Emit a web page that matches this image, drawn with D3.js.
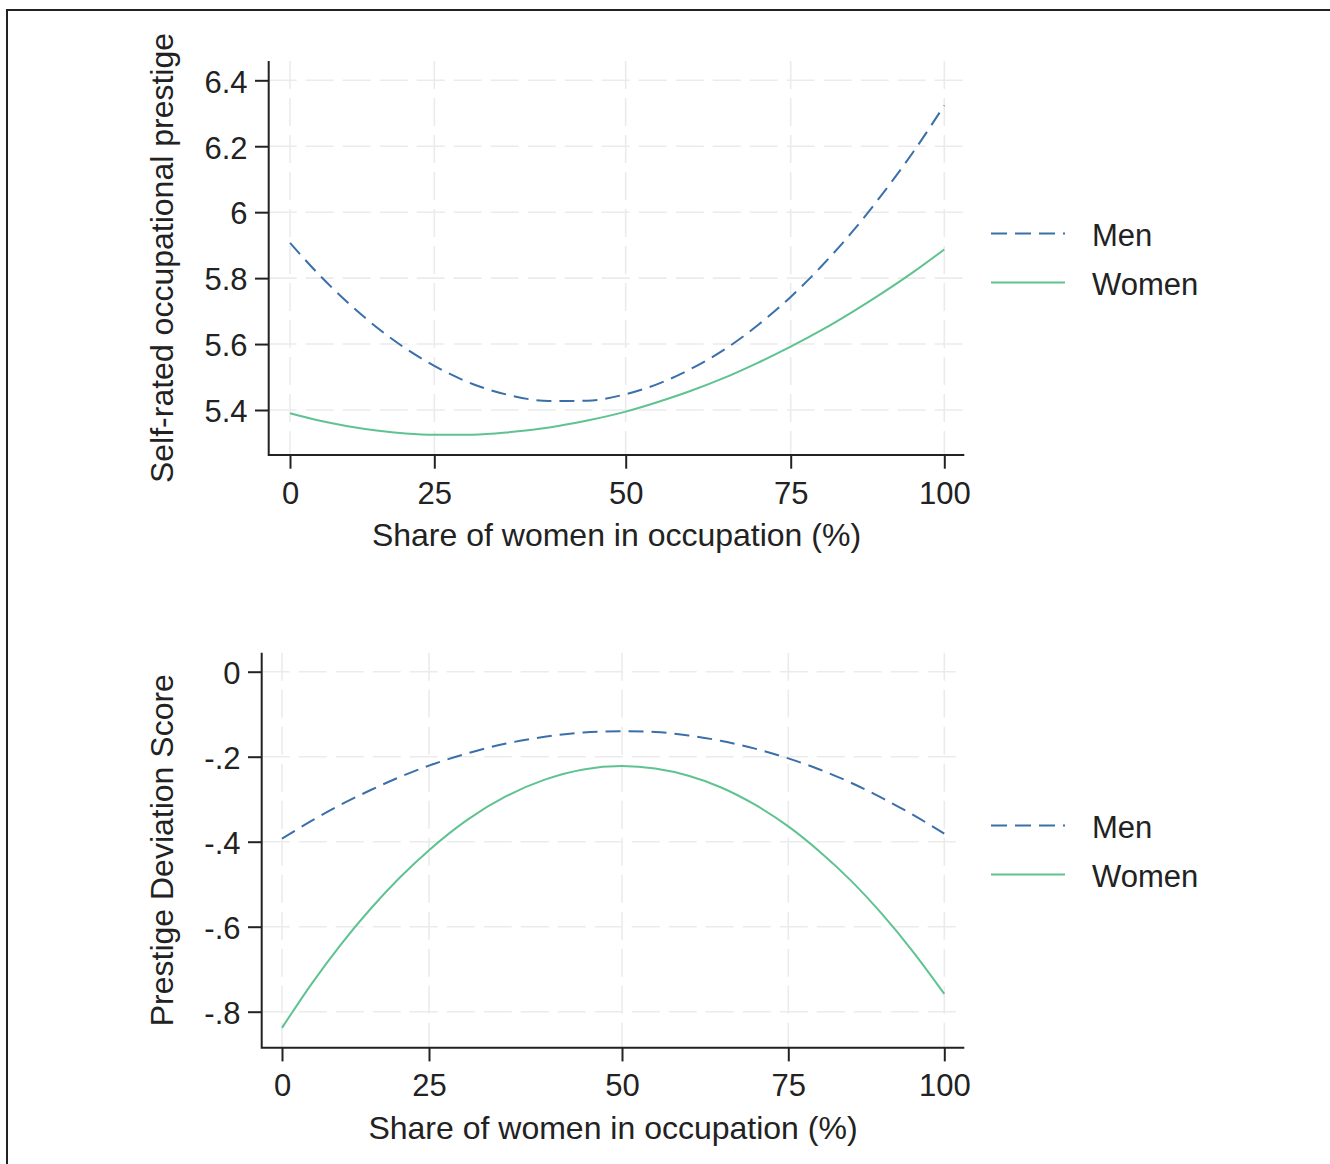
<!DOCTYPE html>
<html>
<head>
<meta charset="utf-8">
<script src="https://cdn.jsdelivr.net/npm/d3@7"></script>
<style>
  body { margin: 0; background: #fff; }
  svg text { font-family: "Liberation Sans", Arial, sans-serif; fill: #222; }
</style>
</head>
<body>
<div id="chart"></div>
<script>
// share of women in occupation (%)
var shareX = [0, 5, 10, 15, 20, 25, 30, 35, 40, 45, 50, 55, 60, 65, 70, 75, 80, 85, 90, 95, 100];
var xTicks = [0, 25, 50, 75, 100];

// top panel: self-rated occupational prestige
var prestigeMen   = [5.907, 5.811, 5.726, 5.651, 5.587, 5.534, 5.479, 5.444, 5.427, 5.428, 5.448,
                     5.480, 5.526, 5.584, 5.657, 5.743, 5.836, 5.940, 6.057, 6.184, 6.324];
var prestigeWomen = [5.390, 5.368, 5.351, 5.338, 5.329, 5.325, 5.325, 5.333, 5.347, 5.368, 5.395,
                     5.425, 5.459, 5.498, 5.543, 5.592, 5.642, 5.697, 5.756, 5.819, 5.887];
var prestigeTicks  = [5.4, 5.6, 5.8, 6, 6.2, 6.4];
var prestigeLabels = ["5.4", "5.6", "5.8", "6", "6.2", "6.4"];

// bottom panel: prestige deviation score
var deviationMen   = [-0.393, -0.351, -0.313, -0.279, -0.248, -0.221, -0.192, -0.169, -0.153, -0.143, -0.140,
                      -0.142, -0.150, -0.163, -0.181, -0.204, -0.230, -0.261, -0.297, -0.337, -0.381];
var deviationWomen = [-0.838, -0.735, -0.642, -0.559, -0.485, -0.420, -0.348, -0.293, -0.254, -0.230, -0.222,
                      -0.228, -0.245, -0.273, -0.313, -0.364, -0.423, -0.491, -0.570, -0.659, -0.758];
var deviationTicks  = [-0.8, -0.6, -0.4, -0.2, 0];
var deviationLabels = ["-.8", "-.6", "-.4", "-.2", "0"];

var seriesNames = ["Men", "Women"];
var colors = { Men: "#3b6fa9", Women: "#5fc391" };
var gridColor = "#ebebeb";
var ink = "#222";

var width = 1330, height = 1164;
var svg = d3.select("#chart").append("svg")
  .attr("width", width)
  .attr("height", height);

// outer frame (only top and left edges visible)
svg.append("path")
  .attr("d", "M7," + height + "V10H" + width)
  .attr("fill", "none")
  .attr("stroke", ink)
  .attr("stroke-width", 2);

function panel(opt) {
  var g = svg.append("g");

  // x axis in the source is not evenly spaced between ticks
  var x = d3.scaleLinear().domain(xTicks).range(opt.xStops);
  var y = d3.scaleLinear().domain(opt.yDomain).range(opt.yRange);

  // grid
  g.append("g").selectAll("line.h")
    .data(opt.yTicks).enter().append("line")
    .attr("x1", opt.left).attr("x2", opt.right)
    .attr("y1", function(d){ return y(d); }).attr("y2", function(d){ return y(d); })
    .attr("stroke", gridColor).attr("stroke-width", 1.6).attr("stroke-dasharray", "28,9");
  g.append("g").selectAll("line.v")
    .data(xTicks).enter().append("line")
    .attr("x1", function(d){ return x(d); }).attr("x2", function(d){ return x(d); })
    .attr("y1", opt.top).attr("y2", opt.bottom)
    .attr("stroke", gridColor).attr("stroke-width", 1.6).attr("stroke-dasharray", "28,9");

  // lines
  var line = d3.line()
    .x(function(d){ return x(d[0]); })
    .y(function(d){ return y(d[1]); })
    .curve(d3.curveMonotoneX);

  [["Men", opt.men], ["Women", opt.women]].forEach(function(s){
    g.append("path")
      .datum(shareX.map(function(v, i){ return [v, s[1][i]]; }))
      .attr("d", line)
      .attr("fill", "none")
      .attr("stroke", colors[s[0]])
      .attr("stroke-width", 2)
      .attr("stroke-dasharray", s[0] == "Men" ? "15,8" : null);
  });

  // axes
  var yAxis = g.append("g")
    .attr("transform", "translate(" + opt.left + ",0)")
    .call(d3.axisLeft(y).tickValues(opt.yTicks)
      .tickFormat(function(d, i){ return opt.yLabels[i]; })
      .tickSize(13.7).tickPadding(7.5));
  var xAxis = g.append("g")
    .attr("transform", "translate(0," + opt.bottom + ")")
    .call(d3.axisBottom(x).tickValues(xTicks)
      .tickFormat(d3.format("d"))
      .tickSize(13.7).tickPadding(13));
  [yAxis, xAxis].forEach(function(a){
    a.select(".domain").remove();
    a.selectAll(".tick line").attr("stroke", ink).attr("stroke-width", 2);
    a.selectAll(".tick text").attr("font-size", 31).style("fill", ink)
      .attr("font-family", "Liberation Sans, Arial, sans-serif");
  });
  yAxis.selectAll(".tick text").attr("dy", "0.38em");

  g.append("path")
    .attr("d", "M" + opt.left + "," + opt.top + "V" + opt.bottom + "H" + opt.right)
    .attr("fill", "none")
    .attr("stroke", ink)
    .attr("stroke-width", 2);

  // titles
  g.append("text")
    .attr("transform", "translate(173," + ((opt.top + opt.bottom) / 2) + ") rotate(-90)")
    .attr("text-anchor", "middle")
    .attr("font-size", 32)
    .text(opt.yTitle);
  g.append("text")
    .attr("x", (opt.left + opt.right) / 2)
    .attr("y", opt.bottom + 91)
    .attr("text-anchor", "middle")
    .attr("font-size", 32)
    .text("Share of women in occupation (%)");

  // legend
  var lg = g.append("g").attr("transform", "translate(991," + opt.legendY + ")");
  seriesNames.forEach(function(name, i){
    var row = lg.append("g").attr("transform", "translate(0," + (i * 49) + ")");
    row.append("line")
      .attr("x1", 0).attr("x2", 74).attr("y1", 0).attr("y2", 0)
      .attr("stroke", colors[name]).attr("stroke-width", 2)
      .attr("stroke-dasharray", name == "Men" ? "16,8" : null);
    row.append("text")
      .attr("x", 101).attr("y", 12)
      .attr("font-size", 31)
      .text(name);
  });
}

panel({
  men: prestigeMen, women: prestigeWomen,
  yTicks: prestigeTicks, yLabels: prestigeLabels,
  yDomain: [5.4, 6.4], yRange: [410, 80.3],
  xStops: [290, 434.3, 625.7, 790.7, 944.3],
  left: 268.7, right: 964.3, top: 61, bottom: 455,
  yTitle: "Self-rated occupational prestige",
  legendY: 233.5
});

panel({
  men: deviationMen, women: deviationWomen,
  yTicks: deviationTicks, yLabels: deviationLabels,
  yDomain: [-0.8, 0], yRange: [1011.7, 671.7],
  xStops: [282, 429, 622, 788.3, 944.3],
  left: 261.7, right: 964.3, top: 652.7, bottom: 1047.7,
  yTitle: "Prestige Deviation Score",
  legendY: 825.5
});
</script>
</body>
</html>
